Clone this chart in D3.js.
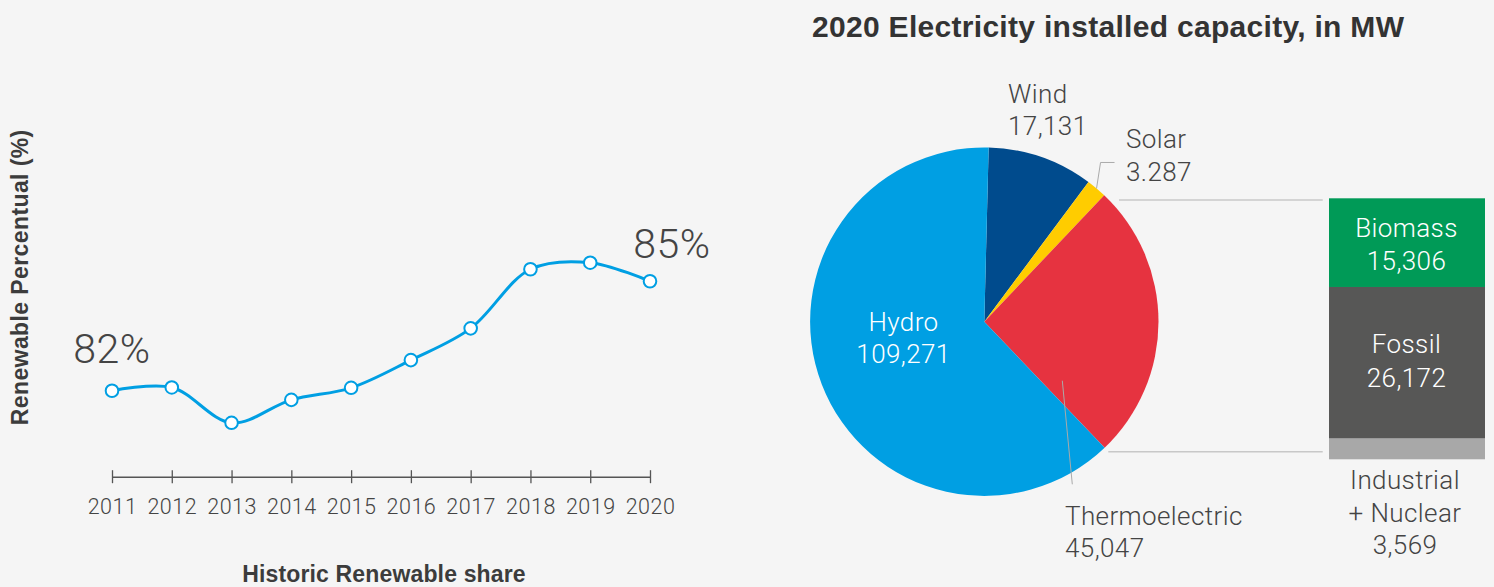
<!DOCTYPE html>
<html>
<head>
<meta charset="utf-8">
<script src="https://cdn.jsdelivr.net/npm/d3@7"></script>
<style>
  html, body { margin: 0; padding: 0; background: #f5f5f5; }
  svg { display: block; }
  .thin { font-family: Roboto, "Liberation Sans", sans-serif; font-weight: 300; fill: #444; letter-spacing: 0.4px; }
  .bold { font-family: "Liberation Sans", Arial, sans-serif; font-weight: 700; fill: #3c3c3c; }
</style>
</head>
<body>
<svg id="chart" width="1494" height="587"></svg>
<script>
// ---------- DATA ----------
const years = [2011, 2012, 2013, 2014, 2015, 2016, 2017, 2018, 2019, 2020];
const renewableShare = [82.0, 82.09, 81.12, 81.75, 82.08, 82.84, 83.71, 85.33, 85.51, 85.0];
const shareLabels = [{ year: 2011, text: "82%" }, { year: 2020, text: "85%" }];

const pieCategories = ["Wind", "Solar", "Thermoelectric", "Hydro"];
const pieValues = [17131, 3287, 45047, 109271];
const pieValueLabels = ["17,131", "3.287", "45,047", "109,271"];
const pieColors = ["#004b8d", "#ffcc00", "#e63340", "#009fe3"];

const thermoCategories = ["Biomass", "Fossil", "Industrial + Nuclear"];
const thermoValues = [15306, 26172, 3569];
const thermoValueLabels = ["15,306", "26,172", "3,569"];
const thermoColors = ["#009a57", "#575756", "#a8a8a8"];

const chartTitle = "2020 Electricity installed capacity, in MW";
const yAxisTitle = "Renewable Percentual (%)";
const xAxisTitle = "Historic Renewable share";

// ---------- SETUP ----------
const svg = d3.select("#chart");
const blue = "#009fe3";

// ---------- LINE CHART ----------
const x = d3.scalePoint().domain(years).range([112, 650]);
const y = d3.scaleLinear().domain([81, 86]).range([427.2, 244.8]);

const axisG = svg.append("g").attr("transform", "translate(0,476.7)")
  .call(d3.axisBottom(x).tickSizeInner(6.5).tickSizeOuter(0).tickPadding(0).tickFormat(d3.format("d")));
axisG.select(".domain").attr("stroke", "#555").attr("stroke-width", 1.5);
axisG.selectAll(".tick line").attr("stroke", "#555").attr("stroke-width", 1.3).attr("y1", -6.5).attr("y2", 6.5);
axisG.selectAll(".tick text").attr("class", "thin").attr("font-size", 21.5)
  .attr("dy", 0).attr("y", 37.6).style("fill", "#444").style("letter-spacing", "0.5px");

const lineData = years.map((yr, i) => ({ year: yr, v: renewableShare[i] }));
svg.append("path").datum(lineData)
  .attr("fill", "none").attr("stroke", blue).attr("stroke-width", 3)
  .attr("d", d3.line().x(d => x(d.year)).y(d => y(d.v)).curve(d3.curveCatmullRom.alpha(0.5)));

svg.selectAll("circle.pt").data(lineData).enter().append("circle")
  .attr("class", "pt").attr("cx", d => x(d.year)).attr("cy", d => y(d.v)).attr("r", 6.3)
  .attr("fill", "#fff").attr("stroke", blue).attr("stroke-width", 2);

const labelOffsets = { 2011: { dx: 0, dy: -28 }, 2020: { dx: 22, dy: -23 } };
shareLabels.forEach(l => {
  const idx = years.indexOf(l.year);
  svg.append("text").attr("class", "thin").attr("font-size", 41).attr("text-anchor", "middle")
    .attr("x", x(l.year) + labelOffsets[l.year].dx)
    .attr("y", y(renewableShare[idx]) + labelOffsets[l.year].dy)
    .style("letter-spacing", "0.6px")
    .text(l.text);
});

svg.append("text").attr("class", "bold").attr("font-size", 23).attr("text-anchor", "middle")
  .style("letter-spacing", "0.4px")
  .attr("transform", "translate(28.3,277.3) rotate(-90)").text(yAxisTitle);
svg.append("text").attr("class", "bold").attr("font-size", 23).attr("text-anchor", "middle")
  .style("letter-spacing", "0.15px")
  .attr("x", 384).attr("y", 582.3).text(xAxisTitle);

// ---------- TITLE ----------
svg.append("text").attr("class", "bold").attr("font-size", 30).style("fill", "#333")
  .style("letter-spacing", "0.3px")
  .attr("x", 812).attr("y", 36.7).text(chartTitle);

// ---------- PIE ----------
const cx = 984.3, cy = 321.7, R = 174.2;
const pieData = pieCategories.map((c, i) => ({ name: c, value: pieValues[i], label: pieValueLabels[i], color: pieColors[i] }));
const arcs = d3.pie().sort(null).value(d => d.value).startAngle(0.025).endAngle(0.025 + 2 * Math.PI)(pieData);
const arcGen = d3.arc().innerRadius(0).outerRadius(R);
const pieG = svg.append("g").attr("transform", `translate(${cx},${cy})`);
pieG.selectAll("path").data(arcs).enter().append("path")
  .attr("d", arcGen).attr("fill", d => d.data.color);

// connector lines from thermoelectric slice to the breakdown bar
const barX0 = 1329, barX1 = 1485;
const thermoTotal = d3.sum(thermoValues);
const by = d3.scaleLinear().domain([0, thermoTotal]).range([198.3, 459.3]);
svg.append("line").attr("x1", 1119).attr("x2", 1322.7).attr("y1", by(0) + 1.7).attr("y2", by(0) + 1.7)
  .attr("stroke", "#c8c8c8").attr("stroke-width", 1.5);
svg.append("line").attr("x1", 1108.3).attr("x2", 1322.7).attr("y1", by(thermoTotal) - 7.6).attr("y2", by(thermoTotal) - 7.6)
  .attr("stroke", "#c8c8c8").attr("stroke-width", 1.5);

// leader lines
const solarArc = arcs[1];
const sMid = (solarArc.startAngle + solarArc.endAngle) / 2;
const sx = Math.sin(sMid) * R, sy = -Math.cos(sMid) * R;
pieG.append("polyline").attr("points", `${sx},${sy} ${sx + 4},${sy - 26} ${sx + 18},${sy - 26}`)
  .attr("fill", "none").attr("stroke", "#aaa").attr("stroke-width", 1);
pieG.append("line").attr("x1", 78).attr("y1", 59).attr("x2", 88).attr("y2", 162.6)
  .attr("stroke", "#aaa").attr("stroke-width", 1);

// pie labels (positions relative to pie center)
const pieLabelPos = {
  Wind: { x: 23.7, y: -219, anchor: "start", fill: "#444" },
  Solar: { x: 141.7, y: -173.4, anchor: "start", fill: "#444" },
  Thermoelectric: { x: 80.7, y: 203.3, anchor: "start", fill: "#444" },
  Hydro: { x: -80.8, y: 9.3, anchor: "middle", fill: "#fff" }
};
arcs.forEach(a => {
  const p = pieLabelPos[a.data.name];
  const t = pieG.append("text").attr("class", "thin").attr("font-size", 26)
    .attr("text-anchor", p.anchor).style("fill", p.fill);
  t.append("tspan").attr("x", p.x).attr("y", p.y).text(a.data.name);
  t.append("tspan").attr("x", p.x).attr("y", p.y + 32.5).text(a.data.label);
});

// ---------- BREAKDOWN BAR ----------
let acc = 0;
const barData = thermoCategories.map((c, i) => {
  const d = { name: c, value: thermoValues[i], label: thermoValueLabels[i], color: thermoColors[i], y0: acc, y1: acc + thermoValues[i] };
  acc += thermoValues[i];
  return d;
});
svg.selectAll("rect.seg").data(barData).enter().append("rect")
  .attr("class", "seg").attr("x", barX0).attr("width", barX1 - barX0)
  .attr("y", d => by(d.y0)).attr("height", d => by(d.y1) - by(d.y0)).attr("fill", d => d.color);

const barCx = 1406.5;
// inside labels
[{ i: 0, dy1: -5.7, dy2: 27 }, { i: 1, dy1: -9.7, dy2: 23.7 }].forEach(o => {
  const d = barData[o.i];
  const mid = (by(d.y0) + by(d.y1)) / 2;
  const t = svg.append("text").attr("class", "thin").attr("font-size", 26).attr("text-anchor", "middle").style("fill", "#fff");
  t.append("tspan").attr("x", barCx).attr("y", mid + o.dy1).text(d.name);
  t.append("tspan").attr("x", barCx).attr("y", mid + o.dy2).text(d.label);
});
// industrial + nuclear label below
{
  const d = barData[2];
  const base = by(d.y1) + 30;
  const parts = ["Industrial", "+ Nuclear", d.label];
  const t = svg.append("text").attr("class", "thin").attr("font-size", 26).attr("text-anchor", "middle").style("fill", "#444");
  parts.forEach((p, k) => t.append("tspan").attr("x", barCx - 1.5).attr("y", base + k * 32.4).text(p));
}
</script>
</body>
</html>
